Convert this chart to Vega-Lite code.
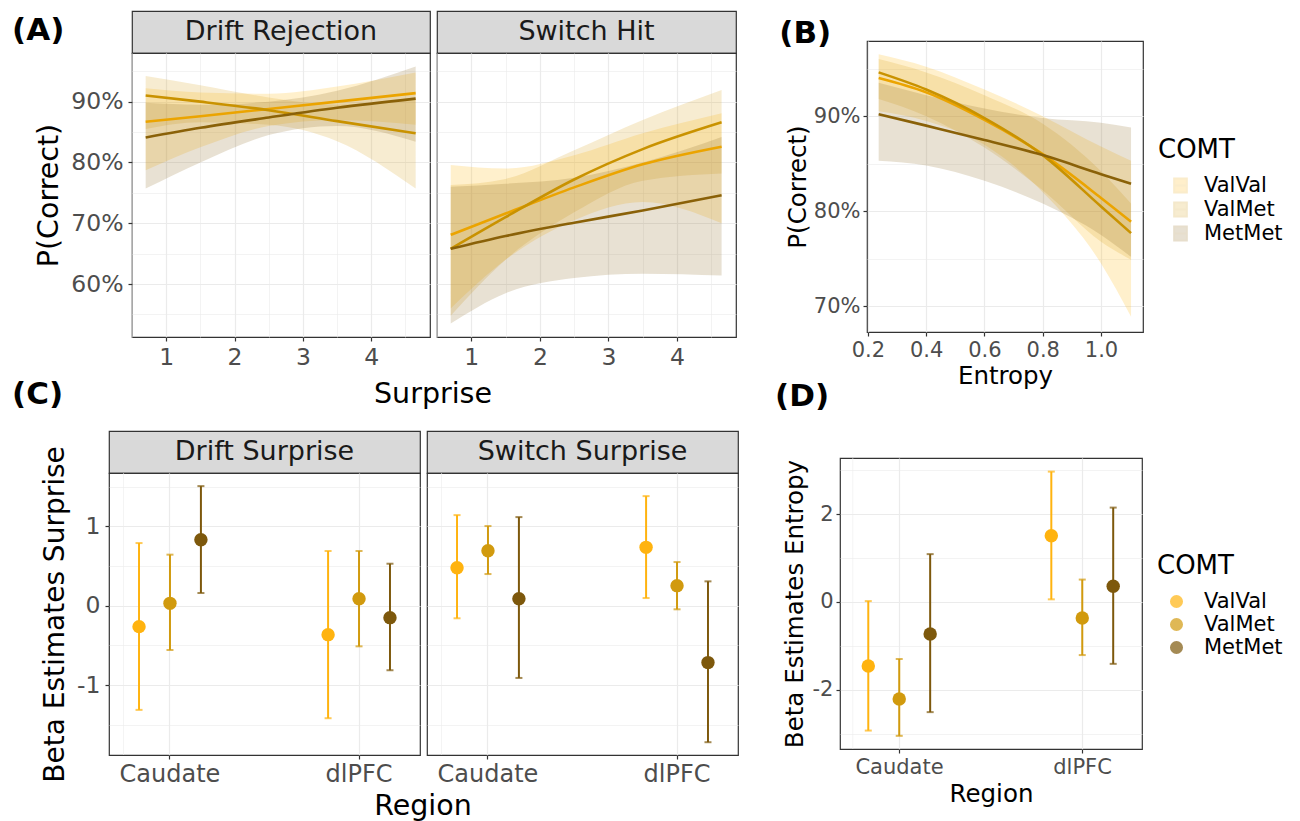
{
  "$schema": "https://vega.github.io/schema/vega-lite/v6.json",
  "background": "white",
  "padding": {"left": 10, "top": 5, "right": 5, "bottom": 0},
  "config": {
    "font": "DejaVu Sans",
    "view": {"stroke": "#333333", "strokeWidth": 1.2},
    "axis": {"domain": false, "gridColor": "#EBEBEB", "tickColor": "#333333", "tickSize": 4, "tickWidth": 1.2, "labelColor": "#4D4D4D", "labelFontSize": 23.5, "labelFont": "DejaVu Sans", "titleFont": "DejaVu Sans", "titleFontSize": 28.5, "titleFontWeight": "normal", "titleColor": "#000000", "labelPadding": 5, "titlePadding": 7, "labelFlush": false, "labelOverlap": false},
    "legend": {"titleFontSize": 26, "titleFontWeight": "normal", "titleColor": "#000000", "labelFontSize": 21, "labelColor": "#000000", "titleFont": "DejaVu Sans", "labelFont": "DejaVu Sans", "rowPadding": 1, "titlePadding": 12, "labelOffset": 12},
    "title": {"font": "DejaVu Sans", "color": "#000000"}
  },
  "datasets": {
    "curvesA": [
      {"panel":"Drift Rejection","COMT":"ValVal","surprise":0.7,"fit":0.867,"lo":0.787,"hi":0.922},
      {"panel":"Drift Rejection","COMT":"ValVal","surprise":1.5,"fit":0.876,"lo":0.825,"hi":0.915},
      {"panel":"Drift Rejection","COMT":"ValVal","surprise":2.5,"fit":0.888,"lo":0.860,"hi":0.913},
      {"panel":"Drift Rejection","COMT":"ValVal","surprise":3.5,"fit":0.900,"lo":0.870,"hi":0.925},
      {"panel":"Drift Rejection","COMT":"ValVal","surprise":4.65,"fit":0.914,"lo":0.862,"hi":0.948},
      {"panel":"Drift Rejection","COMT":"ValMet","surprise":0.7,"fit":0.910,"lo":0.855,"hi":0.942},
      {"panel":"Drift Rejection","COMT":"ValMet","surprise":1.5,"fit":0.900,"lo":0.866,"hi":0.927},
      {"panel":"Drift Rejection","COMT":"ValMet","surprise":2.5,"fit":0.886,"lo":0.862,"hi":0.907},
      {"panel":"Drift Rejection","COMT":"ValMet","surprise":3.5,"fit":0.868,"lo":0.835,"hi":0.895},
      {"panel":"Drift Rejection","COMT":"ValMet","surprise":4.65,"fit":0.848,"lo":0.757,"hi":0.905},
      {"panel":"Drift Rejection","COMT":"MetMet","surprise":0.7,"fit":0.841,"lo":0.757,"hi":0.898},
      {"panel":"Drift Rejection","COMT":"MetMet","surprise":1.5,"fit":0.857,"lo":0.800,"hi":0.895},
      {"panel":"Drift Rejection","COMT":"MetMet","surprise":2.5,"fit":0.874,"lo":0.845,"hi":0.900},
      {"panel":"Drift Rejection","COMT":"MetMet","surprise":3.5,"fit":0.890,"lo":0.860,"hi":0.918},
      {"panel":"Drift Rejection","COMT":"MetMet","surprise":4.65,"fit":0.905,"lo":0.834,"hi":0.958},
      {"panel":"Switch Hit","COMT":"ValVal","surprise":0.7,"fit":0.681,"lo":0.560,"hi":0.796},
      {"panel":"Switch Hit","COMT":"ValVal","surprise":1.5,"fit":0.716,"lo":0.640,"hi":0.790},
      {"panel":"Switch Hit","COMT":"ValVal","surprise":2.5,"fit":0.759,"lo":0.705,"hi":0.812},
      {"panel":"Switch Hit","COMT":"ValVal","surprise":3.5,"fit":0.797,"lo":0.735,"hi":0.848},
      {"panel":"Switch Hit","COMT":"ValVal","surprise":4.65,"fit":0.826,"lo":0.700,"hi":0.881},
      {"panel":"Switch Hit","COMT":"ValMet","surprise":0.7,"fit":0.658,"lo":0.548,"hi":0.763},
      {"panel":"Switch Hit","COMT":"ValMet","surprise":1.5,"fit":0.710,"lo":0.640,"hi":0.773},
      {"panel":"Switch Hit","COMT":"ValMet","surprise":2.5,"fit":0.772,"lo":0.718,"hi":0.820},
      {"panel":"Switch Hit","COMT":"ValMet","surprise":3.5,"fit":0.822,"lo":0.770,"hi":0.870},
      {"panel":"Switch Hit","COMT":"ValMet","surprise":4.65,"fit":0.866,"lo":0.782,"hi":0.919},
      {"panel":"Switch Hit","COMT":"MetMet","surprise":0.7,"fit":0.658,"lo":0.535,"hi":0.760},
      {"panel":"Switch Hit","COMT":"MetMet","surprise":1.5,"fit":0.679,"lo":0.585,"hi":0.765},
      {"panel":"Switch Hit","COMT":"MetMet","surprise":2.5,"fit":0.701,"lo":0.610,"hi":0.775},
      {"panel":"Switch Hit","COMT":"MetMet","surprise":3.5,"fit":0.721,"lo":0.617,"hi":0.800},
      {"panel":"Switch Hit","COMT":"MetMet","surprise":4.65,"fit":0.746,"lo":0.614,"hi":0.842}
    ],
    "curvesB": [
      {"COMT":"ValVal","entropy":0.237,"fit":0.940,"lo":0.905,"hi":0.965},
      {"COMT":"ValVal","entropy":0.4,"fit":0.925,"lo":0.895,"hi":0.952},
      {"COMT":"ValVal","entropy":0.6,"fit":0.896,"lo":0.870,"hi":0.928},
      {"COMT":"ValVal","entropy":0.8,"fit":0.860,"lo":0.820,"hi":0.900},
      {"COMT":"ValVal","entropy":1.0,"fit":0.814,"lo":0.745,"hi":0.868},
      {"COMT":"ValVal","entropy":1.103,"fit":0.789,"lo":0.689,"hi":0.853},
      {"COMT":"ValMet","entropy":0.237,"fit":0.946,"lo":0.918,"hi":0.960},
      {"COMT":"ValMet","entropy":0.4,"fit":0.928,"lo":0.900,"hi":0.946},
      {"COMT":"ValMet","entropy":0.6,"fit":0.898,"lo":0.867,"hi":0.922},
      {"COMT":"ValMet","entropy":0.8,"fit":0.859,"lo":0.822,"hi":0.892},
      {"COMT":"ValMet","entropy":1.0,"fit":0.805,"lo":0.768,"hi":0.842},
      {"COMT":"ValMet","entropy":1.103,"fit":0.777,"lo":0.749,"hi":0.808},
      {"COMT":"MetMet","entropy":0.237,"fit":0.902,"lo":0.853,"hi":0.935},
      {"COMT":"MetMet","entropy":0.4,"fit":0.890,"lo":0.848,"hi":0.922},
      {"COMT":"MetMet","entropy":0.6,"fit":0.875,"lo":0.832,"hi":0.908},
      {"COMT":"MetMet","entropy":0.8,"fit":0.859,"lo":0.808,"hi":0.898},
      {"COMT":"MetMet","entropy":1.0,"fit":0.839,"lo":0.775,"hi":0.893},
      {"COMT":"MetMet","entropy":1.103,"fit":0.829,"lo":0.752,"hi":0.888}
    ],
    "betaC": [
      {"panel":"Drift Surprise","Region":"Caudate","COMT":"ValVal","est":-0.264,"lo":-1.312,"hi":0.788},
      {"panel":"Drift Surprise","Region":"Caudate","COMT":"ValMet","est":0.029,"lo":-0.558,"hi":0.642},
      {"panel":"Drift Surprise","Region":"Caudate","COMT":"MetMet","est":0.830,"lo":0.159,"hi":1.505},
      {"panel":"Drift Surprise","Region":"dlPFC","COMT":"ValVal","est":-0.365,"lo":-1.417,"hi":0.688},
      {"panel":"Drift Surprise","Region":"dlPFC","COMT":"ValMet","est":0.088,"lo":-0.512,"hi":0.688},
      {"panel":"Drift Surprise","Region":"dlPFC","COMT":"MetMet","est":-0.151,"lo":-0.813,"hi":0.528},
      {"panel":"Switch Surprise","Region":"Caudate","COMT":"ValVal","est":0.478,"lo":-0.159,"hi":1.140},
      {"panel":"Switch Surprise","Region":"Caudate","COMT":"ValMet","est":0.692,"lo":0.398,"hi":1.002},
      {"panel":"Switch Surprise","Region":"Caudate","COMT":"MetMet","est":0.088,"lo":-0.910,"hi":1.115},
      {"panel":"Switch Surprise","Region":"dlPFC","COMT":"ValVal","est":0.734,"lo":0.096,"hi":1.379},
      {"panel":"Switch Surprise","Region":"dlPFC","COMT":"ValMet","est":0.252,"lo":-0.046,"hi":0.549},
      {"panel":"Switch Surprise","Region":"dlPFC","COMT":"MetMet","est":-0.717,"lo":-1.719,"hi":0.306}
    ],
    "betaD": [
      {"Region":"Caudate","COMT":"ValVal","est":-1.46,"lo":-2.93,"hi":0.02},
      {"Region":"Caudate","COMT":"ValMet","est":-2.21,"lo":-3.05,"hi":-1.30},
      {"Region":"Caudate","COMT":"MetMet","est":-0.73,"lo":-2.51,"hi":1.09},
      {"Region":"dlPFC","COMT":"ValVal","est":1.51,"lo":0.06,"hi":2.97},
      {"Region":"dlPFC","COMT":"ValMet","est":-0.365,"lo":-1.21,"hi":0.51},
      {"Region":"dlPFC","COMT":"MetMet","est":0.357,"lo":-1.41,"hi":2.15}
    ],
    "minorGrid": [{"Region": "Caudate"}],
    "blank": [{"note": ""}]
  },
  "resolve": {"scale": {"x": "independent", "y": "independent", "color": "independent", "fill": "independent", "stroke": "independent"}, "axis": {"x": "independent", "y": "independent"}, "legend": {"color": "independent", "fill": "independent", "stroke": "independent"}},
  "columns": 2,
  "align": "none",
  "spacing": 36,
  "concat": [
    {
      "columns": 1,
      "align": "none",
      "spacing": 8,
      "resolve": {"scale": {"x": "independent", "y": "independent", "color": "independent", "fill": "independent", "stroke": "independent"}, "axis": {"x": "independent", "y": "independent"}, "legend": {"color": "independent", "fill": "independent", "stroke": "independent"}},
      "concat": [
        {
          "spacing": 0,
          "resolve": {"scale": {"x": "independent", "y": "independent", "color": "independent", "fill": "independent", "stroke": "independent"}, "axis": {"x": "independent", "y": "independent"}},
          "hconcat": [
            {"width": 1, "height": 1, "view": {"stroke": null, "fill": null}, "data": {"name": "blank"}, "mark": {"type": "text"}, "encoding": {"text": {"field": "note"}}},
            {
              "spacing": 5,
              "resolve": {"scale": {"x": "independent", "y": "independent", "color": "independent", "fill": "independent", "stroke": "independent"}, "axis": {"x": "independent", "y": "independent"}},
              "hconcat": [
                {
                  "spacing": 0,
                  "bounds": "flush",
                  "resolve": {"scale": {"x": "independent", "y": "independent"}, "axis": {"x": "independent", "y": "independent"}},
                  "vconcat": [
                    {
                      "title": {"text": "(A)", "anchor": "start", "frame": "group", "fontSize": 31, "fontWeight": "bold", "offset": -36, "dx": -120},
                      "width": 298, "height": 42,
                      "data": {"values": [{"label": "Drift Rejection"}]},
                      "view": {"fill": "#D9D9D9", "stroke": "#333333", "strokeWidth": 1.2},
                      "mark": {"type": "text", "fontSize": 27, "color": "#1A1A1A", "baseline": "middle", "align": "center"},
                      "encoding": {"text": {"field": "label"}}
                    },
                    {
                      "width": 298, "height": 284,
                      "data": {"name": "curvesA"},
                      "transform": [{"filter": "datum.panel === 'Drift Rejection'"}],
                      "encoding": {
                        "x": {"field": "surprise", "type": "quantitative", "scale": {"domain": [0.5, 4.86], "nice": false, "zero": false},
                              "axis": {"title": null, "labels": true, "ticks": true, "labelFontSize": 23.5, "labelPadding": 4, "values": [0.5,1,1.5,2,2.5,3,3.5,4,4.5], "labelExpr": "datum.value % 1 !== 0 ? '' : '' + datum.value", "tickOpacity": {"condition": {"test": "datum.value % 1 !== 0", "value": 0}, "value": 1}, "gridWidth": {"condition": {"test": "datum.value % 1 !== 0", "value": 0.6}, "value": 1.2}}},
                        "y": {"field": "fit", "type": "quantitative", "scale": {"domain": [0.513, 0.98], "nice": false, "zero": false},
                              "axis": {"title": "P(Correct)", "labels": true, "ticks": true, "labelFontSize": 23.5, "labelPadding": 5, "titlePadding": 7, "values": [0.55,0.6,0.65,0.7,0.75,0.8,0.85,0.9,0.95], "labelExpr": "round(datum.value*100) % 10 !== 0 ? '' : round(datum.value*100) + '%'", "tickOpacity": {"condition": {"test": "round(datum.value*100) % 10 !== 0", "value": 0}, "value": 1}, "gridWidth": {"condition": {"test": "round(datum.value*100) % 10 !== 0", "value": 0.6}, "value": 1.2}}}
                      },
                      "layer": [
                        {
                          "mark": {"type": "area", "opacity": 0.2, "clip": true, "interpolate": "monotone"},
                          "encoding": {
                            "y": {"field": "lo", "type": "quantitative"},
                            "y2": {"field": "hi"},
                            "fill": {"field": "COMT", "type": "nominal", "scale": {"domain": ["ValVal","ValMet","MetMet"], "range": ["#FFB300","#D9A21A","#8C6A22"]}, "legend": null}
                          }
                        },
                        {
                          "mark": {"type": "line", "strokeWidth": 2.6, "clip": true, "interpolate": "monotone"},
                          "encoding": {
                            "stroke": {"field": "COMT", "type": "nominal", "scale": {"domain": ["ValVal","ValMet","MetMet"], "range": ["#EBA400","#C99200","#8A6108"]}, "legend": null}
                          }
                        }
                      ]
                    }
                  ]
                },
                {
                  "spacing": 0,
                  "bounds": "flush",
                  "resolve": {"scale": {"x": "independent", "y": "independent"}, "axis": {"x": "independent", "y": "independent"}},
                  "vconcat": [
                    {
                      "width": 299, "height": 42,
                      "data": {"values": [{"label": "Switch Hit"}]},
                      "view": {"fill": "#D9D9D9", "stroke": "#333333", "strokeWidth": 1.2},
                      "mark": {"type": "text", "fontSize": 27, "color": "#1A1A1A", "baseline": "middle", "align": "center"},
                      "encoding": {"text": {"field": "label"}}
                    },
                    {
                      "width": 299, "height": 284,
                      "data": {"name": "curvesA"},
                      "transform": [{"filter": "datum.panel === 'Switch Hit'"}],
                      "encoding": {
                        "x": {"field": "surprise", "type": "quantitative", "scale": {"domain": [0.5, 4.86], "nice": false, "zero": false},
                              "axis": {"title": null, "labels": true, "ticks": true, "labelFontSize": 23.5, "labelPadding": 4, "values": [0.5,1,1.5,2,2.5,3,3.5,4,4.5], "labelExpr": "datum.value % 1 !== 0 ? '' : '' + datum.value", "tickOpacity": {"condition": {"test": "datum.value % 1 !== 0", "value": 0}, "value": 1}, "gridWidth": {"condition": {"test": "datum.value % 1 !== 0", "value": 0.6}, "value": 1.2}}},
                        "y": {"field": "fit", "type": "quantitative", "scale": {"domain": [0.513, 0.98], "nice": false, "zero": false},
                              "axis": {"title": null, "labels": false, "ticks": false, "values": [0.55,0.6,0.65,0.7,0.75,0.8,0.85,0.9,0.95], "gridWidth": {"condition": {"test": "round(datum.value*100) % 10 !== 0", "value": 0.6}, "value": 1.2}}}
                      },
                      "layer": [
                        {
                          "mark": {"type": "area", "opacity": 0.2, "clip": true, "interpolate": "monotone"},
                          "encoding": {
                            "y": {"field": "lo", "type": "quantitative"},
                            "y2": {"field": "hi"},
                            "fill": {"field": "COMT", "type": "nominal", "scale": {"domain": ["ValVal","ValMet","MetMet"], "range": ["#FFB300","#D9A21A","#8C6A22"]}, "legend": null}
                          }
                        },
                        {
                          "mark": {"type": "line", "strokeWidth": 2.6, "clip": true, "interpolate": "monotone"},
                          "encoding": {
                            "stroke": {"field": "COMT", "type": "nominal", "scale": {"domain": ["ValVal","ValMet","MetMet"], "range": ["#EBA400","#C99200","#8A6108"]}, "legend": null}
                          }
                        }
                      ]
                    }
                  ]
                }
              ]
            }
          ]
        },
        {
          "spacing": 0,
          "resolve": {"scale": {"x": "independent", "y": "independent", "color": "independent", "fill": "independent", "stroke": "independent"}, "axis": {"x": "independent", "y": "independent"}},
          "hconcat": [
            {"width": 1, "height": 1, "view": {"stroke": null, "fill": null}, "data": {"name": "blank"}, "mark": {"type": "text"}, "encoding": {"text": {"field": "note"}}},
            {
              "title": {"text": "Surprise", "orient": "top", "anchor": "middle", "fontSize": 28.5, "fontWeight": "normal", "offset": -30, "dx": 58},
              "resolve": {"scale": {"x": "independent", "y": "independent", "color": "independent", "fill": "independent", "stroke": "independent"}, "axis": {"x": "independent", "y": "independent"}},
              "hconcat": [
                {
                  "title": {"text": "Region", "orient": "bottom", "anchor": "middle", "fontSize": 28.5, "fontWeight": "normal", "offset": 5, "dx": 48},
                  "spacing": 5,
                  "resolve": {"scale": {"x": "independent", "y": "independent", "color": "independent", "fill": "independent", "stroke": "independent"}, "axis": {"x": "independent", "y": "independent"}},
                  "hconcat": [
                    {
                      "spacing": 0,
                      "bounds": "flush",
                      "resolve": {"scale": {"x": "independent", "y": "independent"}, "axis": {"x": "independent", "y": "independent"}},
                      "vconcat": [
                        {
                          "title": {"text": "(C)", "anchor": "start", "frame": "group", "fontSize": 31, "fontWeight": "bold", "offset": 20, "dx": -97},
                          "width": 311, "height": 42,
                          "data": {"values": [{"label": "Drift Surprise"}]},
                          "view": {"fill": "#D9D9D9", "stroke": "#333333", "strokeWidth": 1.2},
                          "mark": {"type": "text", "fontSize": 27, "color": "#1A1A1A", "baseline": "middle", "align": "center"},
                          "encoding": {"text": {"field": "label"}}
                        },
                        {
                          "width": 311, "height": 282,
                          "data": {"name": "betaC"},
                          "transform": [{"filter": "datum.panel === 'Drift Surprise'"}],
                          "encoding": {
                            "x": {"field": "Region", "type": "nominal", "scale": {"domain": ["Caudate","dlPFC"], "paddingInner": 0.509, "paddingOuter": 0.077}, "axis": {"title": null, "labelAngle": 0, "grid": true, "gridWidth": 1.2, "labelFontSize": 24, "labelPadding": 3}},
                            "xOffset": {"field": "COMT", "type": "nominal", "sort": ["ValVal","ValMet","MetMet"], "scale": {"paddingInner": 0, "paddingOuter": 0}},
                            "color": {"field": "COMT", "type": "nominal", "scale": {"domain": ["ValVal","ValMet","MetMet"], "range": ["#FFB30F","#D19A0E","#7D580C"]}, "legend": null}
                          },
                          "layer": [
                            {
                              "data": {"name": "minorGrid"},
                              "mark": {"type": "rule", "strokeWidth": 0.6},
                              "encoding": {"x": {"field": "Region", "type": "nominal", "bandPosition": 1.518}, "xOffset": {"value": 0}, "color": {"value": "#EBEBEB"}}
                            },
                            {
                              "mark": {"type": "rule", "strokeWidth": 2},
                              "encoding": {
                                "y": {"field": "lo", "type": "quantitative", "scale": {"domain": [-1.88, 1.67], "nice": false, "zero": false},
                                      "axis": {"title": "Beta Estimates Surprise", "titleFontSize": 28, "titlePadding": 7, "values": [-1.5,-1,-0.5,0,0.5,1,1.5], "labelExpr": "datum.value % 1 !== 0 ? '' : '' + datum.value", "tickOpacity": {"condition": {"test": "datum.value % 1 !== 0", "value": 0}, "value": 1}, "gridWidth": {"condition": {"test": "datum.value % 1 !== 0", "value": 0.6}, "value": 1.2}}},
                                "y2": {"field": "hi"}
                              }
                            },
                            {"mark": {"type": "tick", "orient": "horizontal", "size": 7, "thickness": 2}, "encoding": {"y": {"field": "lo", "type": "quantitative"}}},
                            {"mark": {"type": "tick", "orient": "horizontal", "size": 7, "thickness": 2}, "encoding": {"y": {"field": "hi", "type": "quantitative"}}},
                            {"mark": {"type": "point", "filled": true, "size": 180, "opacity": 1}, "encoding": {"y": {"field": "est", "type": "quantitative"}}}
                          ]
                        }
                      ]
                    },
                    {
                      "spacing": 0,
                      "bounds": "flush",
                      "resolve": {"scale": {"x": "independent", "y": "independent"}, "axis": {"x": "independent", "y": "independent"}},
                      "vconcat": [
                        {
                          "width": 311, "height": 42,
                          "data": {"values": [{"label": "Switch Surprise"}]},
                          "view": {"fill": "#D9D9D9", "stroke": "#333333", "strokeWidth": 1.2},
                          "mark": {"type": "text", "fontSize": 27, "color": "#1A1A1A", "baseline": "middle", "align": "center"},
                          "encoding": {"text": {"field": "label"}}
                        },
                        {
                          "width": 311, "height": 282,
                          "data": {"name": "betaC"},
                          "transform": [{"filter": "datum.panel === 'Switch Surprise'"}],
                          "encoding": {
                            "x": {"field": "Region", "type": "nominal", "scale": {"domain": ["Caudate","dlPFC"], "paddingInner": 0.509, "paddingOuter": 0.077}, "axis": {"title": null, "labelAngle": 0, "grid": true, "gridWidth": 1.2, "labelFontSize": 24, "labelPadding": 3}},
                            "xOffset": {"field": "COMT", "type": "nominal", "sort": ["ValVal","ValMet","MetMet"], "scale": {"paddingInner": 0, "paddingOuter": 0}},
                            "color": {"field": "COMT", "type": "nominal", "scale": {"domain": ["ValVal","ValMet","MetMet"], "range": ["#FFB30F","#D19A0E","#7D580C"]}, "legend": null}
                          },
                          "layer": [
                            {
                              "data": {"name": "minorGrid"},
                              "mark": {"type": "rule", "strokeWidth": 0.6},
                              "encoding": {"x": {"field": "Region", "type": "nominal", "bandPosition": 1.518}, "xOffset": {"value": 0}, "color": {"value": "#EBEBEB"}}
                            },
                            {
                              "mark": {"type": "rule", "strokeWidth": 2},
                              "encoding": {
                                "y": {"field": "lo", "type": "quantitative", "scale": {"domain": [-1.88, 1.67], "nice": false, "zero": false},
                                      "axis": {"title": null, "labels": false, "ticks": false, "values": [-1.5,-1,-0.5,0,0.5,1,1.5], "gridWidth": {"condition": {"test": "datum.value % 1 !== 0", "value": 0.6}, "value": 1.2}}},
                                "y2": {"field": "hi"}
                              }
                            },
                            {"mark": {"type": "tick", "orient": "horizontal", "size": 7, "thickness": 2}, "encoding": {"y": {"field": "lo", "type": "quantitative"}}},
                            {"mark": {"type": "tick", "orient": "horizontal", "size": 7, "thickness": 2}, "encoding": {"y": {"field": "hi", "type": "quantitative"}}},
                            {"mark": {"type": "point", "filled": true, "size": 180, "opacity": 1}, "encoding": {"y": {"field": "est", "type": "quantitative"}}}
                          ]
                        }
                      ]
                    }
                  ]
                }
              ]
            }
          ]
        }
      ]
    },
    {
      "columns": 1,
      "align": "none",
      "spacing": 39,
      "resolve": {"scale": {"x": "independent", "y": "independent", "color": "independent", "fill": "independent", "stroke": "independent"}, "axis": {"x": "independent", "y": "independent"}, "legend": {"color": "independent", "fill": "independent", "stroke": "independent"}},
      "concat": [
        {
          "spacing": 0,
          "resolve": {"scale": {"x": "independent", "y": "independent", "color": "independent", "fill": "independent", "stroke": "independent"}, "axis": {"x": "independent", "y": "independent"}, "legend": {"color": "independent", "fill": "independent", "stroke": "independent"}},
          "vconcat": [
            {"width": 1, "height": 1, "view": {"stroke": null, "fill": null}, "data": {"name": "blank"}, "mark": {"type": "text"}, "encoding": {"text": {"field": "note"}}},
            {
              "title": {"text": "(D)", "orient": "bottom", "anchor": "start", "fontSize": 31, "fontWeight": "bold", "offset": -6, "dx": -2},
              "spacing": 0,
              "resolve": {"scale": {"x": "independent", "y": "independent", "color": "independent", "fill": "independent", "stroke": "independent"}, "axis": {"x": "independent", "y": "independent"}, "legend": {"color": "independent", "fill": "independent", "stroke": "independent"}},
              "hconcat": [
                {"width": 1, "height": 1, "view": {"stroke": null, "fill": null}, "data": {"name": "blank"}, "mark": {"type": "text"}, "encoding": {"text": {"field": "note"}}},
                {
                  "title": {"text": "(B)", "anchor": "start", "fontSize": 31, "fontWeight": "bold", "offset": -9, "dx": -6},
                  "width": 276, "height": 291,
                  "data": {"name": "curvesB"},
                  "layer": [
                    {
                      "mark": {"type": "area", "opacity": 0.2, "clip": true, "interpolate": "monotone"},
                      "encoding": {
                        "x": {"field": "entropy", "type": "quantitative", "scale": {"domain": [0.197, 1.144], "nice": false, "zero": false},
                              "axis": {"title": "Entropy", "titleFontSize": 24.5, "labelFontSize": 21, "labelPadding": 3, "titlePadding": 4, "values": [0.2,0.3,0.4,0.5,0.6,0.7,0.8,0.9,1.0,1.1], "labelExpr": "round(datum.value*10) % 2 !== 0 ? '' : format(datum.value, '.1f')", "tickOpacity": {"condition": {"test": "round(datum.value*10) % 2 !== 0", "value": 0}, "value": 1}, "gridWidth": {"condition": {"test": "round(datum.value*10) % 2 !== 0", "value": 0.6}, "value": 1.2}}},
                        "y": {"field": "lo", "type": "quantitative", "scale": {"domain": [0.673, 0.979], "nice": false, "zero": false},
                              "axis": {"title": "P(Correct)", "titleFontSize": 24.5, "labelFontSize": 21, "labelPadding": 3, "titlePadding": 3, "values": [0.7,0.75,0.8,0.85,0.9,0.95], "labelExpr": "round(datum.value*100) % 10 !== 0 ? '' : round(datum.value*100) + '%'", "tickOpacity": {"condition": {"test": "round(datum.value*100) % 10 !== 0", "value": 0}, "value": 1}, "gridWidth": {"condition": {"test": "round(datum.value*100) % 10 !== 0", "value": 0.6}, "value": 1.2}}},
                        "y2": {"field": "hi"},
                        "fill": {"field": "COMT", "type": "nominal", "scale": {"domain": ["ValVal","ValMet","MetMet"], "range": ["#FFB300","#D9A21A","#8C6A22"]}}
                      }
                    },
                    {
                      "mark": {"type": "line", "strokeWidth": 2.6, "clip": true, "interpolate": "monotone"},
                      "encoding": {
                        "x": {"field": "entropy", "type": "quantitative"},
                        "y": {"field": "fit", "type": "quantitative"},
                        "stroke": {"field": "COMT", "type": "nominal", "scale": {"domain": ["ValVal","ValMet","MetMet"], "range": ["#EBA400","#C99200","#8A6108"]},
                                   "legend": {"title": "COMT", "orient": "right", "offset": -81, "padding": 96, "symbolOffset": 12, "labelOffset": 13, "symbolType": "M-1,-1.1H1V1.1H-1Z M-1,0H1", "symbolSize": 160, "symbolStrokeWidth": 2}}
                      }
                    }
                  ]
                }
              ]
            }
          ]
        },
        {
          "spacing": 3,
          "resolve": {"scale": {"x": "independent", "y": "independent", "color": "independent", "fill": "independent", "stroke": "independent"}, "axis": {"x": "independent", "y": "independent"}, "legend": {"color": "independent", "fill": "independent", "stroke": "independent"}},
          "hconcat": [
            {"width": 1, "height": 1, "view": {"stroke": null, "fill": null}, "data": {"name": "blank"}, "mark": {"type": "text"}, "encoding": {"text": {"field": "note"}}},
            {
              "width": 302, "height": 291,
              "data": {"name": "betaD"},
              "encoding": {
                "x": {"field": "Region", "type": "nominal", "scale": {"domain": ["Caudate","dlPFC"], "paddingInner": 0.49, "paddingOuter": 0.07}, "axis": {"title": "Region", "titleFontSize": 24.5, "labelFontSize": 21, "labelPadding": 3, "labelAngle": 0, "grid": true, "gridWidth": 1.2, "titlePadding": 5}},
                "xOffset": {"field": "COMT", "type": "nominal", "sort": ["ValVal","ValMet","MetMet"], "scale": {"paddingInner": 0, "paddingOuter": 0}}
              },
              "layer": [
                {
                  "data": {"name": "minorGrid"},
                  "mark": {"type": "rule", "strokeWidth": 0.6, "color": "#EBEBEB"},
                  "encoding": {"x": {"field": "Region", "type": "nominal", "bandPosition": 1.48}, "xOffset": {"value": 0}}
                },
                {
                  "mark": {"type": "rule", "strokeWidth": 2},
                  "encoding": {
                    "y": {"field": "lo", "type": "quantitative", "scale": {"domain": [-3.35, 3.28], "nice": false, "zero": false},
                          "axis": {"title": "Beta Estimates Entropy", "titleFontSize": 24.5, "labelFontSize": 21, "labelPadding": 3, "titlePadding": 5, "values": [-3,-2,-1,0,1,2,3], "labelExpr": "datum.value % 2 !== 0 ? '' : '' + datum.value", "tickOpacity": {"condition": {"test": "datum.value % 2 !== 0", "value": 0}, "value": 1}, "gridWidth": {"condition": {"test": "datum.value % 2 !== 0", "value": 0.6}, "value": 1.2}}},
                    "y2": {"field": "hi"},
                    "stroke": {"field": "COMT", "type": "nominal", "scale": {"domain": ["ValVal","ValMet","MetMet"], "range": ["#FFB30F","#D19A0E","#7D580C"]}}
                  }
                },
                {"mark": {"type": "tick", "orient": "horizontal", "size": 7, "thickness": 2}, "encoding": {"y": {"field": "lo", "type": "quantitative"}, "fill": {"field": "COMT", "type": "nominal"}}},
                {"mark": {"type": "tick", "orient": "horizontal", "size": 7, "thickness": 2}, "encoding": {"y": {"field": "hi", "type": "quantitative"}, "fill": {"field": "COMT", "type": "nominal"}}},
                {"mark": {"type": "point", "filled": true, "size": 180, "opacity": 1},
                 "encoding": {"y": {"field": "est", "type": "quantitative"},
                              "fill": {"field": "COMT", "type": "nominal", "scale": {"domain": ["ValVal","ValMet","MetMet"], "range": ["#FFB30F","#D19A0E","#7D580C"]},
                                       "legend": {"title": "COMT", "orient": "right", "offset": -80, "padding": 95, "symbolOffset": 9, "labelOffset": 17, "symbolType": "circle", "symbolSize": 170, "symbolStrokeWidth": 0, "symbolOpacity": 1}}}}
              ]
            }
          ]
        }
      ]
    }
  ]
}
